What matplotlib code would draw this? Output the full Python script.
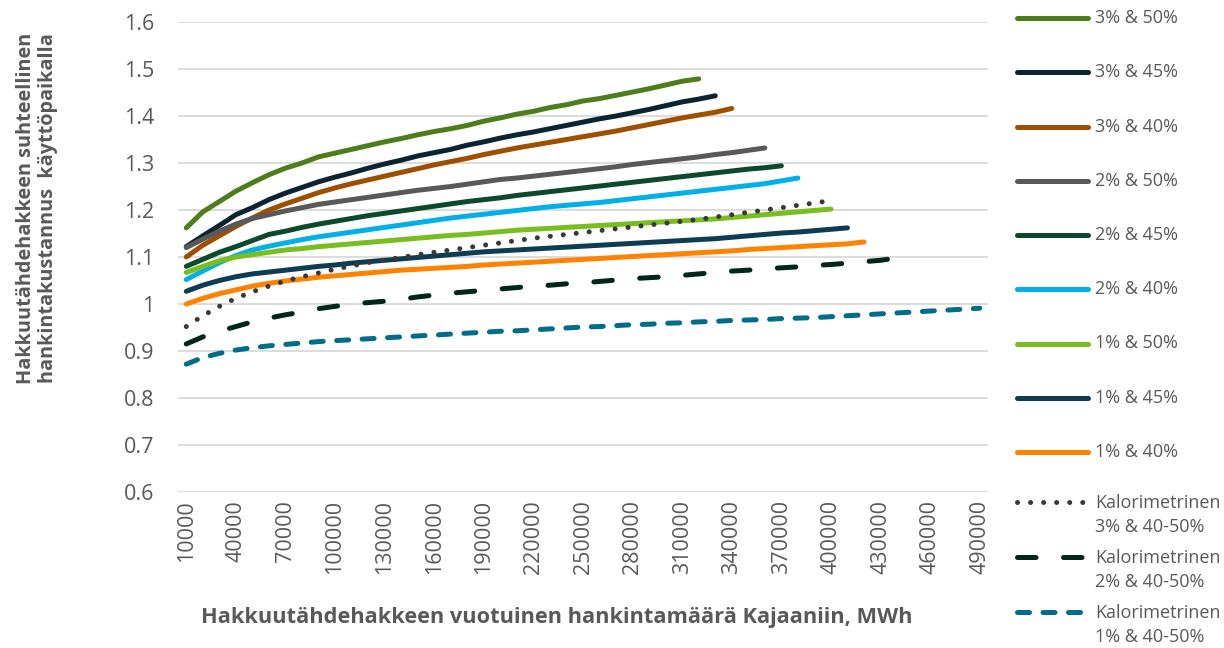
import numpy as np
import matplotlib
matplotlib.use("Agg")
import matplotlib.pyplot as plt
from matplotlib.lines import Line2D

# hankintamäärä, MWh (category axis, step 10000)
supply_mwh = list(range(10000, 500000, 10000))

s3_50 = [1.162, 1.196, 1.218, 1.240, 1.258, 1.275, 1.289, 1.300, 1.313, 1.321,
         1.329, 1.337, 1.345, 1.352, 1.360, 1.367, 1.373, 1.380, 1.389, 1.396,
         1.404, 1.410, 1.418, 1.424, 1.432, 1.437, 1.444, 1.451, 1.458, 1.466,
         1.474, 1.479]
s3_45 = [1.122, 1.145, 1.167, 1.190, 1.205, 1.222, 1.236, 1.248, 1.260, 1.270,
         1.279, 1.289, 1.298, 1.306, 1.315, 1.322, 1.329, 1.338, 1.345, 1.353,
         1.360, 1.366, 1.373, 1.380, 1.387, 1.394, 1.400, 1.407, 1.414, 1.422,
         1.430, 1.436, 1.443]
s3_40 = [1.100, 1.125, 1.145, 1.165, 1.183, 1.200, 1.213, 1.225, 1.237, 1.247,
         1.256, 1.264, 1.272, 1.280, 1.288, 1.296, 1.303, 1.310, 1.318, 1.325,
         1.332, 1.338, 1.344, 1.350, 1.356, 1.362, 1.368, 1.375, 1.382, 1.389,
         1.396, 1.402, 1.408, 1.416]
s2_50 = [1.120, 1.138, 1.155, 1.170, 1.182, 1.190, 1.198, 1.205, 1.212, 1.217,
         1.222, 1.227, 1.232, 1.237, 1.242, 1.246, 1.250, 1.255, 1.260, 1.265,
         1.268, 1.272, 1.276, 1.280, 1.284, 1.288, 1.292, 1.297, 1.301, 1.305,
         1.309, 1.313, 1.318, 1.322, 1.327, 1.332]
s2_45 = [1.080, 1.095, 1.110, 1.122, 1.135, 1.148, 1.155, 1.163, 1.170, 1.176,
         1.182, 1.188, 1.193, 1.198, 1.203, 1.208, 1.213, 1.218, 1.222, 1.226,
         1.231, 1.235, 1.239, 1.243, 1.247, 1.251, 1.255, 1.259, 1.263, 1.267,
         1.271, 1.275, 1.279, 1.283, 1.287, 1.290, 1.294]
s2_40 = [1.052, 1.070, 1.088, 1.103, 1.115, 1.123, 1.130, 1.137, 1.143, 1.148,
         1.153, 1.158, 1.163, 1.168, 1.173, 1.178, 1.183, 1.187, 1.191, 1.195,
         1.199, 1.203, 1.207, 1.210, 1.213, 1.216, 1.220, 1.224, 1.228, 1.232,
         1.236, 1.240, 1.244, 1.248, 1.252, 1.256, 1.262, 1.268]
s1_50 = [1.067, 1.080, 1.092, 1.100, 1.105, 1.110, 1.115, 1.118, 1.122, 1.125,
         1.128, 1.131, 1.134, 1.137, 1.140, 1.143, 1.146, 1.148, 1.151, 1.154,
         1.157, 1.159, 1.161, 1.163, 1.165, 1.167, 1.169, 1.171, 1.173, 1.175,
         1.177, 1.179, 1.181, 1.184, 1.187, 1.190, 1.193, 1.196, 1.199, 1.202]
s1_45 = [1.027, 1.040, 1.050, 1.058, 1.064, 1.068, 1.072, 1.076, 1.080, 1.083,
         1.087, 1.090, 1.093, 1.096, 1.099, 1.102, 1.105, 1.108, 1.111, 1.113,
         1.115, 1.117, 1.119, 1.121, 1.123, 1.125, 1.127, 1.129, 1.131, 1.133,
         1.135, 1.137, 1.139, 1.142, 1.145, 1.148, 1.151, 1.153, 1.156, 1.159,
         1.162]
s1_40 = [1.000, 1.012, 1.022, 1.030, 1.038, 1.044, 1.049, 1.053, 1.057, 1.060,
         1.063, 1.066, 1.069, 1.072, 1.074, 1.076, 1.078, 1.080, 1.083, 1.085,
         1.087, 1.089, 1.091, 1.093, 1.095, 1.097, 1.099, 1.101, 1.103, 1.105,
         1.107, 1.109, 1.111, 1.113, 1.116, 1.118, 1.120, 1.122, 1.124, 1.126,
         1.128, 1.132]
kal_3 = [0.952, 0.975, 0.995, 1.012, 1.026, 1.038, 1.049, 1.058, 1.066, 1.074,
         1.081, 1.088, 1.094, 1.099, 1.105, 1.110, 1.115, 1.120, 1.125, 1.130,
         1.135, 1.140, 1.144, 1.148, 1.152, 1.156, 1.160, 1.164, 1.168, 1.172,
         1.176, 1.180, 1.185, 1.190, 1.195, 1.200, 1.205, 1.210, 1.215, 1.220]
kal_2 = [0.915, 0.930, 0.942, 0.952, 0.962, 0.970, 0.977, 0.983, 0.990, 0.995,
         1.000, 1.003, 1.006, 1.010, 1.015, 1.019, 1.023, 1.026, 1.029, 1.032,
         1.035, 1.038, 1.040, 1.043, 1.045, 1.048, 1.051, 1.054, 1.056, 1.058,
         1.061, 1.064, 1.067, 1.070, 1.072, 1.075, 1.077, 1.079, 1.082, 1.084,
         1.087, 1.090, 1.093, 1.098]
kal_1 = [0.872, 0.886, 0.895, 0.902, 0.907, 0.911, 0.914, 0.917, 0.920, 0.922,
         0.924, 0.926, 0.928, 0.930, 0.932, 0.934, 0.936, 0.938, 0.940, 0.942,
         0.943, 0.945, 0.947, 0.949, 0.951, 0.952, 0.954, 0.956, 0.957, 0.959,
         0.960, 0.962, 0.963, 0.965, 0.966, 0.967, 0.969, 0.970, 0.971, 0.973,
         0.975, 0.977, 0.979, 0.981, 0.983, 0.985, 0.987, 0.989, 0.991]

labels = ["3% & 50%", "3% & 45%", "3% & 40%", "2% & 50%", "2% & 45%",
          "2% & 40%", "1% & 50%", "1% & 45%", "1% & 40%",
          "Kalorimetrinen\n3% & 40-50%", "Kalorimetrinen\n2% & 40-50%",
          "Kalorimetrinen\n1% & 40-50%"]
series = [s3_50, s3_45, s3_40, s2_50, s2_45, s2_40, s1_50, s1_45, s1_40,
          kal_3, kal_2, kal_1]
colors = ["#4E7D1C", "#0C2432", "#9E5000", "#595959", "#0B4A2D", "#00B0E6",
          "#78BE20", "#0D3D52", "#FF8200", "#383838", "#00271A", "#006E8A"]
styles = ["-"] * 9 + [(0, (0.01, 2.6)), (0, (3.7, 5.5)), (0, (2.4, 2.7))]

txt = "#595959"
W, H = 1224, 648
plt.rcParams["font.family"] = ["Open Sans", "DejaVu Sans"]

fig = plt.figure(figsize=(W / 100, H / 100), dpi=100)
ax = fig.add_axes([178 / W, 1 - 492 / H, 810 / W, 470 / H])

for vals, lab, c, ls in zip(series, labels, colors, styles):
    x = np.arange(len(vals))
    ax.plot(x, vals, color=c, lw=3.6, ls=ls, label=lab,
            solid_capstyle="round", dash_capstyle="round")

ax.set_xlim(-0.5, len(supply_mwh) - 0.5)
ax.set_ylim(0.6, 1.6)
yt = np.round(np.arange(0.6, 1.61, 0.1), 1)
ax.set_yticks(yt)
ax.set_yticklabels([f"{v:g}" for v in yt])
xt = np.arange(0, len(supply_mwh), 3)
ax.set_xticks(xt)
ax.set_xticklabels([str(supply_mwh[i]) for i in xt], rotation=90)
ax.tick_params(length=0, labelcolor=txt, labelsize=15.5)
ax.tick_params(axis="y", pad=17)
ax.tick_params(axis="x", pad=6)
ax.grid(axis="y", color="#D9D9D9", lw=1.3)
ax.set_axisbelow(True)
for sp in ax.spines.values():
    sp.set_visible(False)

fig.text(37 / W, 1 - 208 / H,
         "Hakkuutähdehakkeen suhteellinen\nhankintakustannus  käyttöpaikalla",
         rotation=90, ha="center", va="center", fontsize=14.3,
         fontweight="bold", color=txt, linespacing=1.15)
fig.text(557 / W, 1 - 618 / H,
         "Hakkuutähdehakkeen vuotuinen hankintamäärä Kajaaniin, MWh",
         ha="center", va="center", fontsize=15.7, fontweight="bold", color=txt)

# legend drawn by hand so that the two-line entries keep the Excel spacing
for i, (lab, c, ls) in enumerate(zip(labels, colors, styles)):
    row = 18 + 54.25 * i if i < 9 else 502 + 55 * (i - 9)
    yf = 1 - row / H
    fig.add_artist(Line2D([1017 / W, 1088 / W], [yf, yf], transform=fig.transFigure,
                          color=c, lw=3.6, ls=ls, solid_capstyle="round",
                          dash_capstyle="round"))
    nlines = lab.count("\n") + 1
    fig.text(1095 / W, yf - (nlines - 1) * 13 / H, lab, ha="left", va="center",
             fontsize=13, color=txt, linespacing=1.4)

fig.savefig("out.png", dpi=100)
